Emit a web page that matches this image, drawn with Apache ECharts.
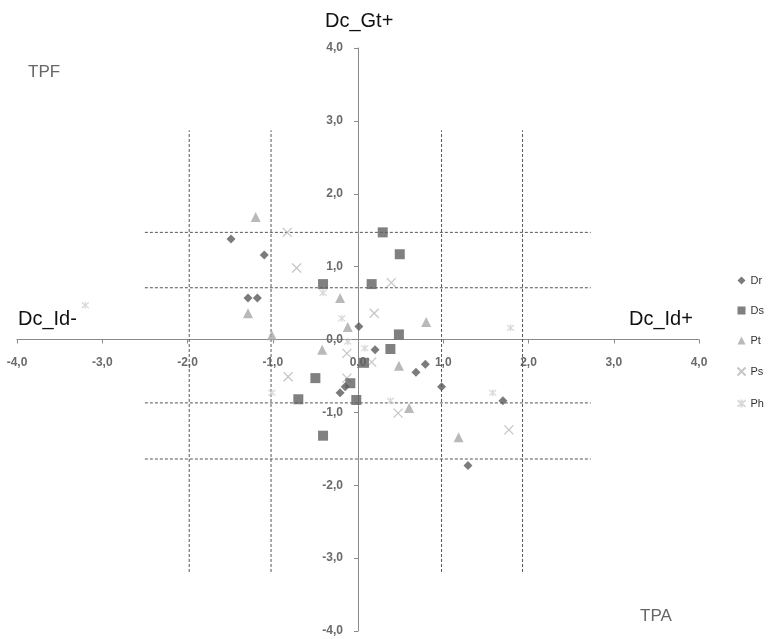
<!DOCTYPE html>
<html><head><meta charset="utf-8">
<script src="https://cdn.jsdelivr.net/npm/echarts@6/dist/echarts.min.js"></script>
<style>html,body{margin:0;padding:0;background:#fff}#c{width:768px;height:639px}</style>
</head><body><div id="c"></div>
<script>
var seriesNames = ['Dr','Ds','Pt','Ps','Ph'];
var dataDr = [[-1.49,1.38],[-1.10,1.16],[-1.29,0.57],[-1.18,0.57],[0.01,0.18],[0.20,-0.14],[0.68,-0.45],[0.79,-0.34],[0.98,-0.65],[1.70,-0.84],[1.29,-1.73],[-0.21,-0.73],[-0.15,-0.65]];
var dataDs = [[0.29,1.47],[0.49,1.17],[0.16,0.76],[-0.41,0.76],[0.48,0.07],[0.38,-0.13],[0.07,-0.32],[-0.50,-0.53],[-0.70,-0.82],[-0.09,-0.60],[-0.02,-0.83],[-0.41,-1.32]];
var dataPt = [[-1.20,1.68],[-1.29,0.36],[-1.01,0.06],[-0.21,0.57],[-0.42,-0.14],[-0.12,0.17],[0.80,0.24],[0.48,-0.36],[0.60,-0.94],[1.18,-1.34]];
var dataPs = [[-0.83,1.47],[-0.72,0.98],[0.39,0.78],[0.19,0.36],[-0.82,-0.51],[-0.13,-0.19],[0.16,-0.31],[0.47,-1.01],[1.77,-1.24],[-0.13,-0.53]];
var dataPh = [[-3.20,0.47],[1.79,0.16],[1.58,-0.73],[0.38,-0.84],[-0.41,0.64],[-0.19,0.29],[-0.12,-0.03],[0.08,-0.12],[-1.01,-0.73]];
// dashed reference lines
var refXValues = [-1.98,-1.02,0.98,1.93];
var refXSpan = [-3.19, 2.87];
var refYValues = [1.47,0.71,-0.87,-1.64];
var refYSpan = [-2.50, 2.73];
var axisMin = -4, axisMax = 4, axisStep = 1;

var fmt = function(v){ return v.toFixed(1).replace('.', ','); };
var lineSeries = [];
refXValues.forEach(function(x){
  lineSeries.push({type:'line', silent:true, symbol:'none', z:1,
    lineStyle:{color:'#555', width:1, type:[3,2]},
    data:[[x, refXSpan[0]],[x, refXSpan[1]]]});
});
refYValues.forEach(function(y){
  lineSeries.push({type:'line', silent:true, symbol:'none', z:1,
    lineStyle:{color:'#555', width:1, type:[3,2]},
    data:[[refYSpan[0], y],[refYSpan[1], y]]});
});
var crossPath = 'path://M0,0L10,10M10,0L0,10';
var starPath = 'path://M0,1L10,9M10,1L0,9M5,0L5,10';
var scatter = [
  {name:'Dr', type:'scatter', data:dataDr, symbol:'diamond', symbolSize:[9,9], itemStyle:{color:'#5a5a5a'}, z:5},
  {name:'Ds', type:'scatter', data:dataDs, symbol:'rect', symbolSize:10, itemStyle:{color:'#606060'}, z:4},
  {name:'Pt', type:'scatter', data:dataPt, symbol:'triangle', symbolSize:10, itemStyle:{color:'#a8a8a8'}, z:3},
  {name:'Ps', type:'scatter', data:dataPs, symbol:crossPath, symbolSize:9, itemStyle:{color:'none', borderColor:'#b8b8b8', borderWidth:1.3}, z:3},
  {name:'Ph', type:'scatter', data:dataPh, symbol:starPath, symbolSize:7, itemStyle:{color:'none', borderColor:'#cfcfcf', borderWidth:1.3}, z:3}
];
var gridL = 17, gridR = 69, gridT = 48, gridB = 8, W = 768, H = 639;
var zeroX = gridL + (W - gridL - gridR) * (0 - axisMin) / (axisMax - axisMin);
var zeroY = gridT + (H - gridT - gridB) * (axisMax - 0) / (axisMax - axisMin);
var chart = echarts.init(document.getElementById('c'));
function axisBase(margin){
  return {
    type:'value', min:axisMin, max:axisMax, interval:axisStep,
    splitLine:{show:false},
    axisLine:{onZero:false, lineStyle:{color:'#8a8a8a', width:1}},
    axisTick:{show:true, length:4, lineStyle:{color:'#8a8a8a'}},
    axisLabel:{formatter:fmt, margin:margin, color:'#6a6a6a', fontSize:12, fontWeight:'bold', fontFamily:'Liberation Sans'}
  };
}
var xAx = axisBase(17); xAx.position = 'bottom'; xAx.offset = -((H - gridB) - zeroY);
var yAx = axisBase(15); yAx.position = 'left'; yAx.offset = -(zeroX - gridL);
chart.setOption({
  animation:false,
  backgroundColor:'#fff',
  grid:{left:gridL, right:gridR, top:gridT, bottom:gridB, containLabel:false, outerBoundsMode:'none'},
  xAxis: xAx,
  yAxis: yAx,
  legend:{
    data:seriesNames, orient:'vertical', left:735, top:275, itemGap:19,
    itemWidth:8, itemHeight:8, padding:0,
    textStyle:{fontSize:11, color:'#333', fontFamily:'Liberation Sans'}
  },
  graphic:[
    {type:'text', left:325, top:11, style:{text:'Dc_Gt+', fontSize:20, fill:'#111', fontFamily:'Liberation Sans'}},
    {type:'text', left:28, top:64, style:{text:'TPF', fontSize:17, fill:'#666', fontFamily:'Liberation Sans'}},
    {type:'text', left:18, top:309, style:{text:'Dc_Id-', fontSize:20, fill:'#111', fontFamily:'Liberation Sans'}},
    {type:'text', left:629, top:309, style:{text:'Dc_Id+', fontSize:20, fill:'#111', fontFamily:'Liberation Sans'}},
    {type:'text', left:640, top:608, style:{text:'TPA', fontSize:17, fill:'#666', fontFamily:'Liberation Sans'}}
  ],
  series: lineSeries.concat(scatter)
});
</script></body></html>
